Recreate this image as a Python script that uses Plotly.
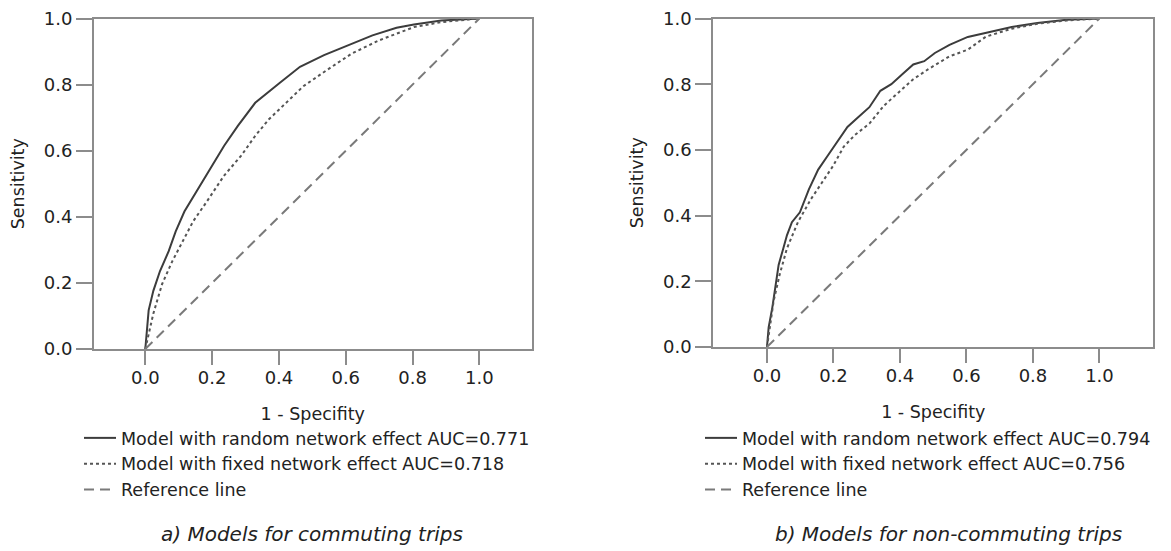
import plotly.graph_objects as go

# ---------------- data ----------------
# a) commuting trips
fpr_rand_a = [0, 0.01, 0.024, 0.044, 0.07, 0.091, 0.117, 0.153, 0.194, 0.236, 0.277,
              0.329, 0.401, 0.463, 0.535, 0.607, 0.68, 0.752, 0.804, 0.886, 1.0]
tpr_rand_a = [0, 0.117, 0.176, 0.236, 0.296, 0.356, 0.416, 0.476, 0.545, 0.615, 0.675,
              0.745, 0.804, 0.854, 0.889, 0.919, 0.949, 0.972, 0.982, 0.994, 1.0]
fpr_fix_a = [0, 0.024, 0.05, 0.081, 0.112, 0.143, 0.184, 0.236, 0.287, 0.329, 0.37,
             0.411, 0.473, 0.545, 0.618, 0.7, 0.804, 0.886, 1.0]
tpr_fix_a = [0, 0.107, 0.196, 0.266, 0.326, 0.386, 0.446, 0.525, 0.585, 0.645, 0.695,
             0.735, 0.795, 0.845, 0.894, 0.934, 0.974, 0.989, 1.0]

# b) non-commuting trips
fpr_rand_b = [0, 0.005, 0.016, 0.027, 0.035, 0.049, 0.06, 0.075, 0.099, 0.126, 0.154,
              0.181, 0.209, 0.242, 0.275, 0.308, 0.341, 0.374, 0.407, 0.44, 0.473,
              0.505, 0.549, 0.604, 0.67, 0.736, 0.813, 0.901, 1.0]
tpr_rand_b = [0, 0.06, 0.12, 0.19, 0.25, 0.30, 0.34, 0.38, 0.41, 0.48, 0.54,
              0.58, 0.62, 0.67, 0.70, 0.73, 0.78, 0.80, 0.83, 0.86, 0.87,
              0.895, 0.92, 0.944, 0.959, 0.974, 0.986, 0.996, 1.0]
fpr_fix_b = [0, 0.008, 0.02, 0.038, 0.06, 0.093, 0.132, 0.165, 0.198, 0.231, 0.264,
             0.308, 0.352, 0.396, 0.44, 0.484, 0.549, 0.604, 0.659, 0.736, 0.813,
             0.901, 1.0]
tpr_fix_b = [0, 0.06, 0.14, 0.22, 0.30, 0.38, 0.45, 0.50, 0.55, 0.61, 0.645,
             0.68, 0.735, 0.775, 0.815, 0.845, 0.885, 0.905, 0.945, 0.969, 0.984,
             0.994, 1.0]

ref_x = [0, 1]
ref_y = [0, 1]

auc_a = ["0.771", "0.718"]
auc_b = ["0.794", "0.756"]

tick_vals = [0, 0.2, 0.4, 0.6, 0.8, 1.0]
x_title = "1 - Specifity"
y_title = "Sensitivity"
captions = ["a) Models for commuting trips", "b) Models for non-commuting trips"]

# ---------------- styling ----------------
W, H = 1171, 551
OFF = 8  # page body margin
FONT = "DejaVu Sans"
TXT = "#222222"
AXC = "#8c8c8c"
C_SOLID = "#3c3c3c"
C_DOT = "#555555"
C_DASH = "#7a7a7a"


def px_x(p):
    return (p - OFF) / W


def px_y(p):
    return 1 - (p - OFF) / H


fig = go.Figure()


def add_panel(fx_r, ty_r, fx_f, ty_f, aucs, xa, ya, leg):
    fig.add_trace(go.Scatter(
        x=fx_r, y=ty_r, mode="lines", xaxis=xa, yaxis=ya, legend=leg,
        name=f"Model with random network effect AUC={aucs[0]}",
        line=dict(color=C_SOLID, width=2)))
    fig.add_trace(go.Scatter(
        x=fx_f, y=ty_f, mode="lines", xaxis=xa, yaxis=ya, legend=leg,
        name=f"Model with fixed network effect AUC={aucs[1]}",
        line=dict(color=C_DOT, width=2, dash="3px,3px")))
    fig.add_trace(go.Scatter(
        x=ref_x, y=ref_y, mode="lines", xaxis=xa, yaxis=ya, legend=leg,
        name="Reference line",
        line=dict(color=C_DASH, width=2, dash="10px,6px")))


add_panel(fpr_rand_a, tpr_rand_a, fpr_fix_a, tpr_fix_a, auc_a, "x", "y", "legend")
add_panel(fpr_rand_b, tpr_rand_b, fpr_fix_b, tpr_fix_b, auc_b, "x2", "y2", "legend2")

common = dict(
    showgrid=False, zeroline=False, showline=True, linecolor=AXC, linewidth=2,
    mirror=True, ticks="outside", tickwidth=2, tickcolor=AXC, automargin=False,
    tickvals=tick_vals, tickformat=".1f", ticklabeloverflow="allow",
    tickfont=dict(family=FONT, size=18, color=TXT),
)
xcommon = dict(common, ticklen=14, ticklabelstandoff=-3,
               title=dict(text=x_title, standoff=21, font=dict(size=17.5)))
ycommon = dict(common, ticklen=16,
               title=dict(text=y_title, standoff=15, font=dict(size=17.5)))

leg_common = dict(xanchor="left", yanchor="top", bgcolor="rgba(0,0,0,0)",
                  borderwidth=0, tracegroupgap=0, itemwidth=32,
                  font=dict(family=FONT, size=17.5, color=TXT))

fig.update_layout(
    width=W, height=H,
    margin=dict(l=0, r=0, t=0, b=0, autoexpand=False),
    paper_bgcolor="white", plot_bgcolor="white",
    font=dict(family=FONT, size=17.5, color=TXT),
    xaxis=dict(domain=[px_x(94), px_x(531.5)], range=[-0.1536, 1.156], anchor="y",
               **xcommon),
    yaxis=dict(domain=[px_y(349), px_y(18.5)], range=[0, 1], anchor="x", **ycommon),
    xaxis2=dict(domain=[px_x(713.3), px_x(1153.3)], range=[-0.1615, 1.162], anchor="y2",
                **xcommon),
    yaxis2=dict(domain=[px_y(347), px_y(18.5)], range=[0, 1], anchor="x2", **ycommon),
    legend=dict(x=px_x(79), y=px_y(420), **leg_common),
    legend2=dict(x=px_x(700), y=px_y(420), **leg_common),
    showlegend=True,
)

for cap, cx in zip(captions, [311.5, 948]):
    fig.add_annotation(text=f"<i>{cap}</i>", x=px_x(cx), y=px_y(534),
                       xref="paper", yref="paper", showarrow=False,
                       xanchor="center", yanchor="middle",
                       font=dict(family=FONT, size=20, color=TXT))

fig.write_html("out.html")
